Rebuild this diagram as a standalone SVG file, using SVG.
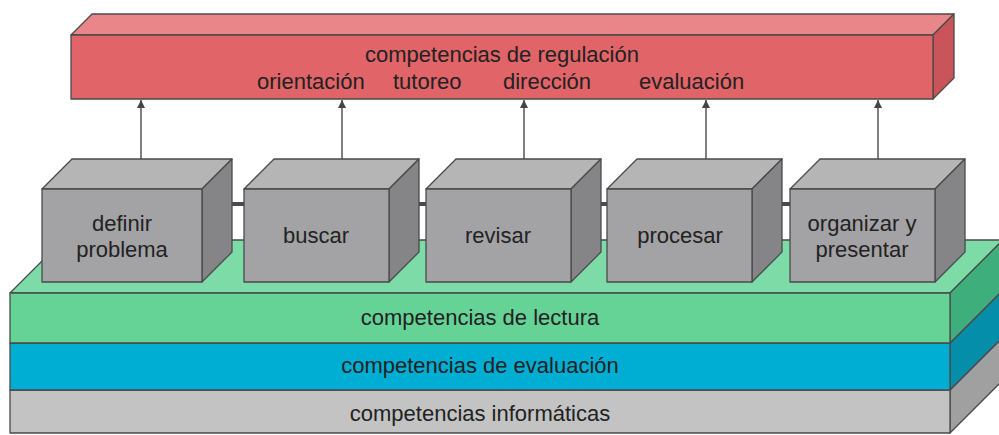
<svg xmlns="http://www.w3.org/2000/svg" width="999" height="435" viewBox="0 0 999 435">
<style>
  text { font-family: "Liberation Sans", Arial, sans-serif; font-size: 22px; fill: #222; }
  .c { text-anchor: middle; }
  .edge { stroke: #4a4a4a; stroke-width: 1.3; stroke-linejoin: round; }
  .bf { fill: #a3a3a5; }
  .bt { fill: #b5b5b6; }
  .bs { fill: #858587; }
  .arrow { stroke: #555; stroke-width: 1.5; fill: none; marker-end: url(#ah); }
  .link { stroke: #4a4a4a; stroke-width: 4; }
</style>
<defs>
  <marker id="ah" viewBox="0 0 10 10" refX="10" refY="5" markerWidth="8" markerHeight="8" markerUnits="userSpaceOnUse" orient="auto">
    <path d="M0,0 L10,5 L0,10 z" fill="#444"/>
  </marker>
</defs>
<rect width="999" height="435" fill="#ffffff"/>

<g id="layer-informaticas">
  <polygon class="edge" points="950,390 1003,337 1003,380 950,433" fill="#a0a0a0"/>
  <rect class="edge" x="10" y="390" width="940" height="43" fill="#c3c3c3"/>
  <text class="c" x="480" y="421">competencias informáticas</text>
</g>
<g id="layer-evaluacion">
  <polygon class="edge" points="950,343 1003,290 1003,337 950,390" fill="#058ea9"/>
  <rect class="edge" x="10" y="343" width="940" height="47" fill="#00aed4"/>
  <text class="c" x="480" y="373">competencias de evaluación</text>
</g>
<g id="layer-lectura">
  <polygon class="edge" points="10,293 63,240 1003,240 950,293" fill="#7ddba8"/>
  <polygon class="edge" points="950,293 1003,240 1003,290 950,343" fill="#3fae7d"/>
  <rect class="edge" x="10" y="293" width="940" height="50" fill="#66d396"/>
  <text class="c" x="480" y="325">competencias de lectura</text>
</g>

<g id="connectors">
  <line class="link" x1="120" y1="204" x2="880" y2="204"/>
  <line class="arrow" x1="141" y1="159" x2="141" y2="100"/>
  <line class="arrow" x1="342" y1="159" x2="342" y2="100"/>
  <line class="arrow" x1="524" y1="159" x2="524" y2="100"/>
  <line class="arrow" x1="706" y1="159" x2="706" y2="100"/>
  <line class="arrow" x1="878" y1="159" x2="878" y2="100"/>
</g>

<g id="node-definir">
  <polygon class="edge bt" points="42,189 72,159 232,159 202,189"/>
  <polygon class="edge bs" points="202,189 232,159 232,252 202,282"/>
  <rect class="edge bf" x="42" y="189" width="160" height="93"/>
  <text class="c" x="122" y="231">definir</text>
  <text class="c" x="122" y="257">problema</text>
</g>
<g id="node-buscar">
  <polygon class="edge bt" points="244,189 274,159 419,159 389,189"/>
  <polygon class="edge bs" points="389,189 419,159 419,252 389,282"/>
  <rect class="edge bf" x="244" y="189" width="145" height="93"/>
  <text class="c" x="316" y="243">buscar</text>
</g>
<g id="node-revisar">
  <polygon class="edge bt" points="426,189 456,159 601,159 571,189"/>
  <polygon class="edge bs" points="571,189 601,159 601,252 571,282"/>
  <rect class="edge bf" x="426" y="189" width="145" height="93"/>
  <text class="c" x="498" y="243">revisar</text>
</g>
<g id="node-procesar">
  <polygon class="edge bt" points="607,189 637,159 782,159 752,189"/>
  <polygon class="edge bs" points="752,189 782,159 782,252 752,282"/>
  <rect class="edge bf" x="607" y="189" width="145" height="93"/>
  <text class="c" x="680" y="243">procesar</text>
</g>
<g id="node-organizar">
  <polygon class="edge bt" points="790,189 820,159 965,159 935,189"/>
  <polygon class="edge bs" points="935,189 965,159 965,252 935,282"/>
  <rect class="edge bf" x="790" y="189" width="145" height="93"/>
  <text class="c" x="862" y="231">organizar y</text>
  <text class="c" x="862" y="257">presentar</text>
</g>

<g id="node-regulacion">
  <polygon class="edge" points="71,35 92,14 954,14 933,35" fill="#e8868a"/>
  <polygon class="edge" points="933,35 954,14 954,78 933,99" fill="#c9545a"/>
  <rect class="edge" x="71" y="35" width="862" height="64" fill="#e06468"/>
  <text class="c" x="502" y="62">competencias de regulación</text>
  <text y="89"><tspan x="257">orientación</tspan><tspan x="393">tutoreo</tspan><tspan x="503">dirección</tspan><tspan x="639">evaluación</tspan></text>
</g>
</svg>
